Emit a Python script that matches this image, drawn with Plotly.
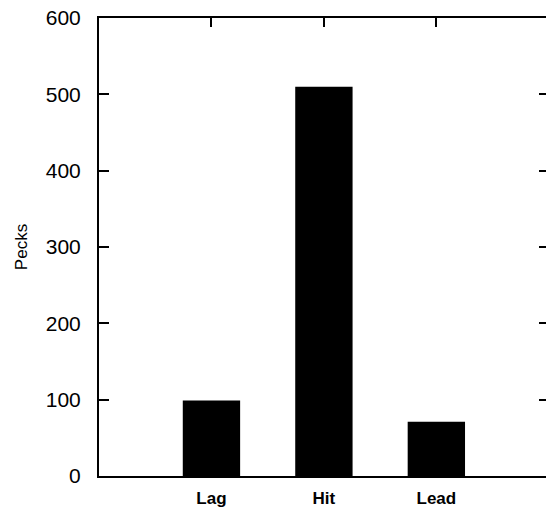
import plotly.graph_objects as go

categories = ["Lag", "Hit", "Lead"]
pecks = [99, 510, 71]
y_ticks = [0, 100, 200, 300, 400, 500, 600]
y_title = "Pecks"

fig = go.Figure()
fig.add_trace(go.Bar(x=categories, y=pecks, marker=dict(color="black", line=dict(width=0)),
                     width=0.51, showlegend=False))
# invisible trace for the right-side tick axis
fig.add_trace(go.Scatter(x=categories, y=pecks, yaxis="y2", mode="markers",
                         marker=dict(opacity=0), showlegend=False, hoverinfo="skip"))

fig.update_layout(
    width=546, height=508,
    margin=dict(l=99, r=0, t=18, b=32),
    paper_bgcolor="white", plot_bgcolor="white",
    font=dict(family="Liberation Sans, Arial, sans-serif", color="black"),
    xaxis=dict(
        type="category", range=[-1, 2.975],
        showline=True, linecolor="black", linewidth=2,
        mirror="ticks", ticks="inside", ticklen=9, tickwidth=2, tickcolor="black",
        showgrid=False, zeroline=False,
        tickfont=dict(size=17, family="Liberation Sans, Arial, sans-serif", weight="bold"),
        ticklabelstandoff=6,
    ),
    yaxis=dict(
        range=[0, 600], tickvals=y_ticks,
        showline=True, linecolor="black", linewidth=2,
        ticks="inside", ticklen=10, tickwidth=2, tickcolor="black",
        showgrid=False, zeroline=False,
        tickfont=dict(size=21),
        ticklabelstandoff=12,
        title=dict(text=y_title, font=dict(size=17), standoff=14),
    ),
    yaxis2=dict(
        overlaying="y", side="right", anchor="x",
        range=[0, 600], tickvals=y_ticks[1:-1],
        showline=False, ticks="inside", ticklen=7, tickwidth=2, tickcolor="black",
        showticklabels=False, showgrid=False, zeroline=False,
    ),
)

fig.write_html(
    "out.html",
    config={"displayModeBar": False},
    post_script="document.body.style.margin='0';document.body.style.overflow='hidden';",
)
